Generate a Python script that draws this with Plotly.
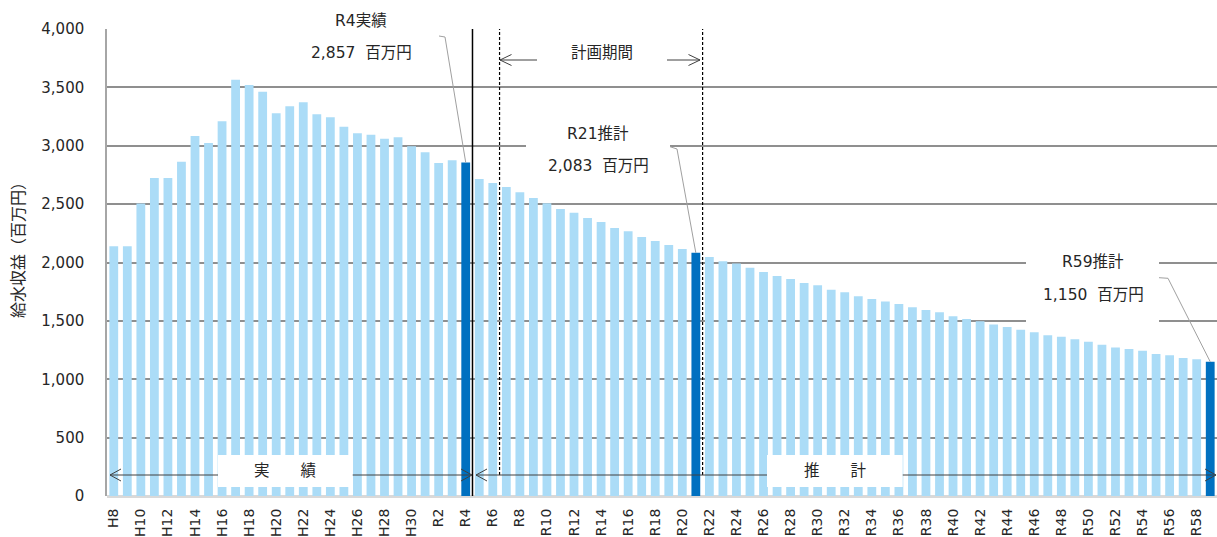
import plotly.graph_objects as go

# ---- data -------------------------------------------------------------
heisei_years = [f"H{y}" for y in range(8, 31)]
reiwa_years = [f"R{y}" for y in range(1, 60)]
years = heisei_years + reiwa_years

# 給水収益（百万円）: H8〜R4 実績, R5〜R59 推計
actual_values = [
    2140, 2140, 2505, 2724, 2724, 2863, 3083, 3024, 3209, 3566,
    3520, 3463, 3278, 3338, 3372, 3269, 3244, 3163, 3107, 3095,
    3060, 3072, 2995,                      # H8〜H30
    2944, 2852, 2875, 2857,                # R1〜R4
]
forecast_values = [
    2715, 2681, 2647, 2601, 2552, 2507, 2458, 2427, 2381, 2347,   # R5〜R14
    2295, 2267, 2218, 2184, 2150, 2116, 2083, 2047, 2010, 1992,   # R15〜R24
    1954, 1919, 1884, 1859, 1824, 1805, 1767, 1745, 1710, 1687,   # R25〜R34
    1665, 1645, 1616, 1593, 1573, 1539, 1516, 1496, 1470, 1447,   # R35〜R44
    1425, 1402, 1376, 1365, 1342, 1322, 1296, 1273, 1259, 1245,   # R45〜R54
    1216, 1205, 1182, 1171, 1150,                                 # R55〜R59
]
values = actual_values + forecast_values

highlight_years = ["R4", "R21", "R59"]
highlight_titles = ["R4実績", "R21推計", "R59推計"]
tick_labels = years[::2]
y_ticks = [0, 500, 1000, 1500, 2000, 2500, 3000, 3500, 4000]

# ---- styling ------------------------------------------------------------
LIGHT = "#ABDCF7"
DARK = "#0070C0"
TEXT = "#262626"
FONT = "DejaVu Sans, Noto Sans CJK JP, sans-serif"
Y_MAX = 4000

# plot-area geometry (pixels) used to place the decorations
W, H = 1217, 537
PL, PR, PT, PB = 107, 1217, 29, 496
N = len(years)


def fx(px):
    return (px - PL) / (PR - PL)


def fy(py):
    return (PB - py) / (PB - PT)


def data_x(px):
    return fx(px) * N - 0.5


def data_y(py):
    return fy(py) * Y_MAX


idx = {y: i for i, y in enumerate(years)}
colors = [DARK if y in highlight_years else LIGHT for y in years]

fig = go.Figure(
    go.Bar(
        x=years,
        y=values,
        marker=dict(color=colors, line=dict(width=0)),
        hoverinfo="x+y",
    )
)

shapes = []
annotations = []

# period boundaries
r4 = idx["R4"] + 0.5
plan_start = idx["R6"] + 0.5
plan_end = idx["R21"] + 0.5
arrow_y = fy(475)

shapes.append(dict(type="line", xref="x", yref="paper", x0=r4, x1=r4, y0=0, y1=1,
                   line=dict(color="#000000", width=1.5)))
for xv in (plan_start, plan_end):
    shapes.append(dict(type="line", xref="x", yref="paper", x0=xv, x1=xv, y0=arrow_y, y1=1,
                       line=dict(color="#000000", width=1.2, dash="3px,2px")))

ARROW = "#404040"
# 実績 / 推計 range arrows along the bottom
shapes.append(dict(type="line", xref="paper", yref="paper", x0=fx(110), x1=fx(472),
                   y0=arrow_y, y1=arrow_y, line=dict(color=ARROW, width=1)))
shapes.append(dict(type="line", xref="paper", yref="paper", x0=fx(476), x1=fx(1216),
                   y0=arrow_y, y1=arrow_y, line=dict(color=ARROW, width=1)))
# 計画期間 arrows
plan_y = fy(60)
shapes.append(dict(type="line", xref="paper", yref="paper", x0=fx(500), x1=fx(537),
                   y0=plan_y, y1=plan_y, line=dict(color=ARROW, width=1)))
shapes.append(dict(type="line", xref="paper", yref="paper", x0=fx(667), x1=fx(700),
                   y0=plan_y, y1=plan_y, line=dict(color=ARROW, width=1)))

# white label boxes (cover gridlines / bars behind the labels)
boxes = [
    (285, 0, 439, 75),      # R4実績
    (526, 100, 670, 185),   # R21推計
    (1026, 240, 1159, 328), # R59推計
    (218, 455, 352.7, 487), # 実績
    (767, 455, 902.7, 487), # 推計
]
for x0, y0, x1, y1 in boxes:
    shapes.append(dict(type="rect", xref="paper", yref="paper", layer="above",
                       x0=fx(x0), x1=fx(x1), y0=fy(y1), y1=fy(y0),
                       fillcolor="white", line=dict(width=0)))


def chevron(tip_px, tip_py, direction, half=6, length=11):
    d = length if direction == "left" else -length
    return dict(type="path", xref="paper", yref="paper", xsizemode="pixel",
                ysizemode="pixel", xanchor=fx(tip_px), yanchor=fy(tip_py),
                path=f"M {d},{half} L 0,0 L {d},{-half}",
                line=dict(color=ARROW, width=1))


shapes += [
    chevron(110, 475, "left"),
    chevron(472, 475, "right"),
    chevron(476, 475, "left"),
    chevron(1216, 475, "right"),
    chevron(500, 60, "left", half=5.5, length=11.5),
    chevron(700, 60, "right", half=5.5, length=11.5),
]

# leader lines from label boxes to the highlighted bars
leaders = {
    "R4": ((439, 36), (445, 37)),
    "R21": ((670, 146.7), (677, 149)),
    "R59": ((1159, 277.7), (1168, 278.3)),
}
for yr, (p0, p1) in leaders.items():
    tx, ty = idx[yr], values[idx[yr]]
    path = (f"M {data_x(p0[0])},{data_y(p0[1])} L {data_x(p1[0])},{data_y(p1[1])} "
            f"L {tx},{ty}")
    shapes.append(dict(type="path", xref="x", yref="y", path=path,
                       line=dict(color="#A0A0A0", width=1)))


def label(text, px, py, size=15.5):
    annotations.append(dict(text=text, xref="paper", yref="paper", x=fx(px), y=fy(py),
                            xanchor="center", yanchor="middle", showarrow=False,
                            font=dict(family=FONT, size=size, color=TEXT)))


label_pos = {"R4": (361, 21, 53), "R21": (598, 133.5, 165.5), "R59": (1093, 262, 295)}
for yr, title in zip(highlight_years, highlight_titles):
    cx, ty1, ty2 = label_pos[yr]
    v = values[idx[yr]]
    label(title, cx, ty1)
    label(f"{v:,}\u00a0\u00a0百万円", cx, ty2)

label("計画期間", 602, 53.5)
label("実\u3000\u3000績", 285, 471)
label("推\u3000\u3000計", 835, 471)

annotations.append(dict(text="給水収益（百万円）", xref="paper", yref="paper",
                        x=fx(19), y=fy(246), xanchor="center", yanchor="middle",
                        textangle=-90, showarrow=False,
                        font=dict(family=FONT, size=16, color=TEXT)))

fig.update_layout(
    width=W,
    height=H,
    margin=dict(l=PL, r=W - PR, t=PT, b=H - PB, autoexpand=False),
    paper_bgcolor="white",
    plot_bgcolor="white",
    bargap=0.35,
    showlegend=False,
    shapes=shapes,
    annotations=annotations,
    font=dict(family=FONT, color=TEXT),
    xaxis=dict(
        type="category",
        range=[-0.5, N - 0.5],
        tickmode="array",
        tickvals=tick_labels,
        ticktext=tick_labels,
        tickangle=-90,
        tickfont=dict(family=FONT, size=14, color=TEXT),
        showgrid=False,
        showline=False,
        ticks="outside",
        ticklen=6,
        tickcolor="rgba(0,0,0,0)",
        automargin=False,
    ),
    yaxis=dict(
        range=[0, Y_MAX],
        tickmode="array",
        tickvals=y_ticks,
        tickformat=",d",
        tickfont=dict(family=FONT, size=15, color=TEXT),
        showgrid=True,
        gridcolor="#8F8F8F",
        gridwidth=1.5,
        zeroline=True,
        zerolinecolor="#D9D9D9",
        zerolinewidth=2.5,
        showline=True,
        linecolor="#A6A6A6",
        linewidth=1.5,
        ticks="outside",
        ticklen=18,
        tickcolor="rgba(0,0,0,0)",
        automargin=False,
    ),
)

fig.write_html("out.html")
